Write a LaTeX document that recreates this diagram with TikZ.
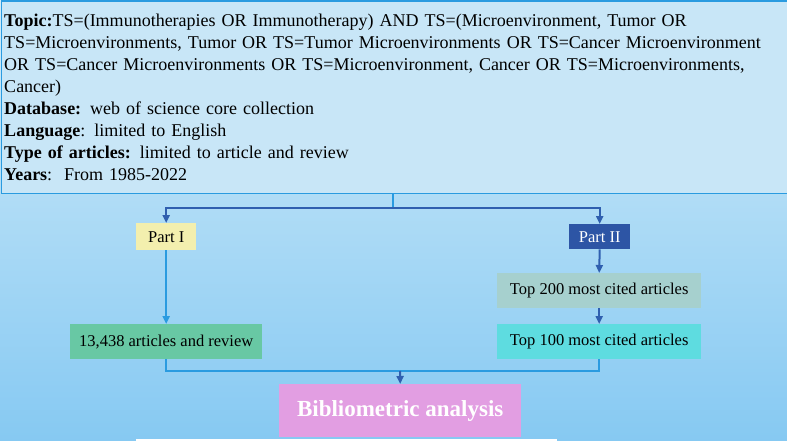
\documentclass[tikz,border=0pt]{standalone}
\usepackage{fontspec}
\setmainfont{Liberation Serif}
\usetikzlibrary{arrows.meta}
\definecolor{bgtop}{HTML}{D2ECF9}
\definecolor{bgbot}{HTML}{86C9F2}
\definecolor{edge}{HTML}{2A9BE0}
\definecolor{dark}{HTML}{2F5FAF}
\definecolor{cp1}{RGB}{243,239,174}
\definecolor{cp2}{RGB}{45,85,165}
\definecolor{ca}{RGB}{104,200,164}
\definecolor{ct2}{RGB}{166,208,206}
\definecolor{ct1}{RGB}{94,220,224}
\definecolor{cb}{RGB}{226,158,226}
\definecolor{topfill}{HTML}{C8E6F7}
\tikzset{
 box/.style={anchor=north west,inner sep=0pt,minimum height=#1,align=center,font=\fontsize{16.5}{18}\selectfont},
 conn/.style={draw=edge,line width=2pt},
 arr/.style={conn,-{Triangle[width=7pt,length=8pt]}},
}
\begin{document}
\begin{tikzpicture}[x=1pt,y=-1pt]
\useasboundingbox (0,0) rectangle (787,441);
\shade[top color=bgtop,bottom color=bgbot] (0,0) rectangle (787,441);
\node[draw=edge,fill=topfill,line width=1.5pt,minimum width=785pt,minimum height=192pt,text width=780pt,inner xsep=3pt,inner ysep=1pt,anchor=north west,align=left,font=\fontsize{18}{22}\selectfont] (top) at (0.5,0.5)
{\textbf{Topic:}TS=(Immunotherapies OR Immunotherapy) AND TS=(Microenvironment, Tumor OR\\
TS=Microenvironments, Tumor OR TS=Tumor Microenvironments OR TS=Cancer Microenvironment\\
OR TS=Cancer Microenvironments OR TS=Microenvironment, Cancer OR TS=Microenvironments,\\
Cancer)\\
\textbf{Database:} web of science core collection\\
\textbf{Language}: limited to English\\
\textbf{Type of articles:} limited to article and review\\
\textbf{Years}:\ \ From 1985-2022};
\node[box=27pt,minimum width=60pt,fill=cp1] (p1) at (136,223) {Part I};
\node[box=25pt,minimum width=61pt,fill=cp2,text=white] (p2) at (569,224) {Part II};
\node[box=35pt,minimum width=192pt,fill=ca] (a) at (70,324) {13,438 articles and review};
\node[box=35pt,minimum width=204pt,fill=ct2] (t2) at (497,273) {Top 200 most cited articles};
\node[box=35pt,minimum width=204pt,fill=ct1] (t1) at (497,324) {Top 100 most cited articles};
\node[box=53pt,minimum width=242pt,fill=cb,text=white,font=\fontsize{23}{25}\selectfont\bfseries] (b) at (279,384) {Bibliometric analysis};
\coordinate (j) at (393,208);
\draw[conn] (top.south -| j) -- (j);
\draw[arr,draw=dark] (j) -| (p1.north);
\draw[arr,draw=dark] (j) -| (p2.north);
\draw[arr] (p1.south) -- (a.north);
\draw[arr,draw=dark] (p2.south) -- (t2.north);
\draw[arr,draw=dark] (t2.south) -- (t1.north);
\coordinate (m) at (400,371);
\draw[conn] (a.south) |- (m);
\draw[conn] (t1.south) |- (m);
\draw[arr,draw=dark] (m) -- (b.north);
\draw[white,line width=2pt] (136,440) -- (557,440);
\end{tikzpicture}
\end{document}
